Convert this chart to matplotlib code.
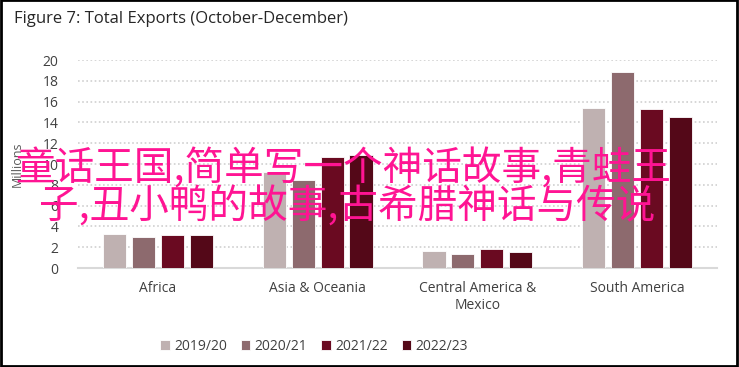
import matplotlib
matplotlib.use('Agg')
import matplotlib.pyplot as plt
from matplotlib.patches import Rectangle
import numpy as np

regions = ['Africa', 'Asia & Oceania', 'Central America &\nMexico', 'South America']
seasons = ['2019/20', '2020/21', '2021/22', '2022/23']
exports = {
    '2019/20': [3.25, 9.25, 1.65, 15.4],
    '2020/21': [2.95, 8.45, 1.3, 18.85],
    '2021/22': [3.2, 10.7, 1.8, 15.3],
    '2022/23': [3.2, 10.9, 1.5, 14.55],
}
colors = ['#bfb1b1', '#8d6a6e', '#6a0a21', '#540818']
yticks = [0, 2, 4, 6, 8, 10, 12, 14, 16, 18, 20]

title = 'Figure 7: Total Exports (October-December)'
overlay = ['童话王国,简单写一个神话故事,青蛙王', '子,丑小鸭的故事,古希腊神话与传说']

W, H = 739, 367
fig = plt.figure(figsize=(W / 100, H / 100), dpi=100)
fig.patch.set_facecolor('white')

ax = fig.add_axes([78 / W, (H - 268) / H, (717 - 78) / W, (268 - 60) / H])

x = np.arange(len(regions))
pitch = 0.181
width = 0.145
for i, s in enumerate(seasons):
    ax.bar(x + (i - 1.5) * pitch, exports[s], width=width, color=colors[i],
           edgecolor='white', linewidth=0.6, label=s, zorder=3)

ax.set_xlim(-0.5, len(regions) - 0.5)
ax.set_ylim(0, 20)
ax.set_yticks(yticks)
ax.set_xticks(x)
ax.set_xticklabels(regions, fontsize=10, color='#404040', family='Open Sans')
for lab in ax.get_yticklabels():
    lab.set_family('Open Sans')
ax.tick_params(axis='y', length=0, pad=14, labelsize=10, labelcolor='#404040')
ax.tick_params(axis='x', length=0, pad=9)
ax.yaxis.grid(True, color='#d0d0d0', linestyle=(0, (1, 1.5)), linewidth=1.2, zorder=0)
ax.set_axisbelow(True)
for side in ['top', 'right', 'left']:
    ax.spines[side].set_visible(False)
ax.spines['bottom'].set_color('#d9d9d9')
ax.spines['bottom'].set_linewidth(1.5)

ax.set_ylabel('Millions', fontsize=9, color='#595959', family='Open Sans', labelpad=4)
ax.yaxis.set_label_coords(-0.085, 0.5)

fig.legend(loc='center', bbox_to_anchor=(314 / W, (H - 346) / H), ncol=4,
           frameon=False, fontsize=10, handlelength=0.7, handleheight=0.7,
           handletextpad=0.3, columnspacing=1.0,
           prop={'family': 'Open Sans', 'size': 10})
for t in fig.legends[0].get_texts():
    t.set_color('#404040')

fig.text(14 / W, (H - 19) / H, title, fontsize=12, color='#262626',
         family='Open Sans', ha='left', va='center')

fig.text(343 / W, (H - 169) / H, overlay[0], fontsize=28.5, color='#ff1493',
         family=['Noto Sans CJK SC', 'DejaVu Sans'], ha='center', va='center')
fig.text(347 / W, (H - 207) / H, overlay[1], fontsize=28.5, color='#ff1493',
         family=['Noto Sans CJK SC', 'DejaVu Sans'], ha='center', va='center')

fig.patches.append(Rectangle((0.001, 0.003), 0.996, 0.996, transform=fig.transFigure,
                             fill=False, edgecolor='black', linewidth=2))

fig.savefig('out.png', dpi=100)
